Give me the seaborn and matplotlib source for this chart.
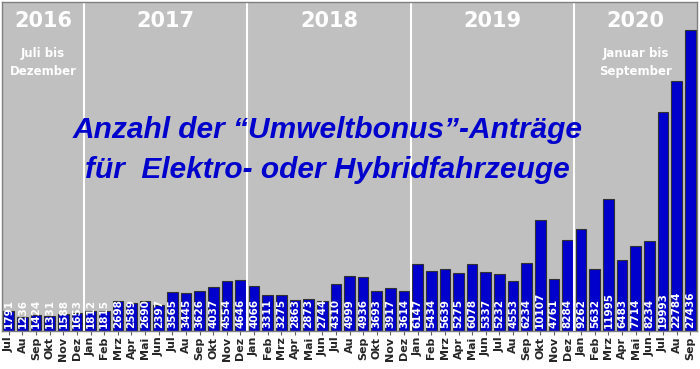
import numpy as np
import pandas as pd
import seaborn as sns
import matplotlib.pyplot as plt

months_2016 = ['Jul', 'Au', 'Sep', 'Okt', 'Nov', 'Dez']
months_full = ['Jan', 'Feb', 'Mrz', 'Apr', 'Mai', 'Jun', 'Jul', 'Au', 'Sep', 'Okt', 'Nov', 'Dez']
months_2020 = months_full[:9]

values_2016 = [1791, 1236, 1424, 1331, 1588, 1653]
values_2017 = [1812, 1815, 2698, 2589, 2690, 2397, 3565, 3445, 3626, 4037, 4554, 4646]
values_2018 = [4066, 3311, 3275, 2863, 2873, 2744, 4310, 4999, 4936, 3693, 3917, 3614]
values_2019 = [6147, 5434, 5639, 5275, 6078, 5337, 5232, 4553, 6234, 10107, 4761, 8284]
values_2020 = [9262, 5632, 11995, 6483, 7714, 8234, 19993, 22784, 27436]

years = ['2016', '2017', '2018', '2019', '2020']
year_notes = {'2016': 'Juli bis\nDezember', '2020': 'Januar bis\nSeptember'}

month_labels = months_2016 + months_full * 3 + months_2020
values = values_2016 + values_2017 + values_2018 + values_2019 + values_2020
year_sizes = [len(values_2016), len(values_2017), len(values_2018), len(values_2019), len(values_2020)]

df = pd.DataFrame({'pos': np.arange(len(values)), 'month': month_labels, 'count': values})

sns.set_style('white')
plt.rcParams['font.family'] = ['Liberation Sans', 'DejaVu Sans']

fig = plt.figure(figsize=(7, 3.69), dpi=100)
ax = fig.add_axes([2 / 700, 38 / 369, 695 / 700, 329 / 369])
ax.set_facecolor('#c0c0c0')

sns.barplot(data=df, x='pos', y='count', color='#0000cc', saturation=1, width=0.78,
            edgecolor='#303030', linewidth=0.8, ax=ax)
ax.set_ylim(0, 30000)
ax.set_xlim(-0.5, len(values) - 0.5)

for i, v in enumerate(values):
    ax.text(i, 250, str(v), rotation=90, ha='center', va='bottom', color='white',
            fontsize=7.5, fontweight='bold', family='DejaVu Sans')

# year separators and year labels
edges = np.cumsum([0] + year_sizes) - 0.5
for e in edges[1:-1]:
    ax.axvline(e, color='white', lw=1.5)
for k, yr in enumerate(years):
    cx = (edges[k] + edges[k + 1]) / 2
    ax.text(cx, 28300, yr, ha='center', va='center', color='white', fontsize=15,
            fontweight='bold', family='DejaVu Sans')
    if yr in year_notes:
        ax.text(cx, 24500, year_notes[yr], ha='center', va='center', color='white',
                fontsize=8.5, fontweight='bold', linespacing=1.55, family='DejaVu Sans')

ax.text(0.468, 0.587, 'Anzahl der \u201cUmweltbonus\u201d-Antr\u00e4ge', transform=ax.transAxes,
        ha='center', va='baseline', color='#0000cc', fontsize=21.5, fontweight='bold', style='italic')
ax.text(0.468, 0.465, 'f\u00fcr  Elektro- oder Hybridfahrzeuge', transform=ax.transAxes,
        ha='center', va='baseline', color='#0000cc', fontsize=21.5, fontweight='bold', style='italic')

ax.set_xticks(range(len(values)))
ax.set_xticklabels(month_labels, rotation=90, fontsize=8, fontweight='bold', family='DejaVu Sans')
ax.tick_params(axis='x', length=3, pad=1, color='#606060', bottom=True)
ax.set_yticks([])
ax.set_xlabel('')
ax.set_ylabel('')
for s in ax.spines.values():
    s.set_color('#808080')
    s.set_linewidth(1)

fig.savefig('out.png', dpi=100, facecolor='white')
